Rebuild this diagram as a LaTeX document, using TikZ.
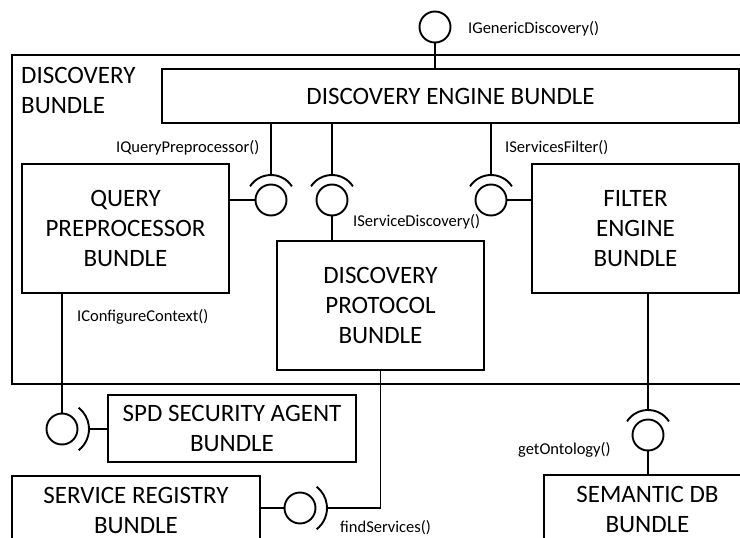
\documentclass[tikz,border=0pt]{standalone}
\usepackage{fontspec}
\setmainfont{Carlito}
\usetikzlibrary{positioning}

\tikzset{
	bundle/.style={draw, rectangle, line width=1.9pt, align=center, inner sep=0pt, font=\fontsize{25}{30}\selectfont},
	ball/.style={draw, circle, line width=1.9pt, minimum size=31pt, inner sep=0pt},
	wire/.style={line width=1.9pt},
	iface/.style={anchor=west, inner sep=0pt, font=\fontsize{16.5}{20}\selectfont},
}

\begin{document}
\begin{tikzpicture}[x=1pt, y=-1pt]
	\useasboundingbox (0,0) rectangle (740,538);
	\clip (0,0) rectangle (740,538);
	% Bundles:
	\node[bundle, minimum width=748pt, minimum height=329pt](DB) at (386,219.5){};
	\node[anchor=north west, align=left, inner sep=0pt, font=\fontsize{25}{30}\selectfont](DBL) at (21,67){DISCOVERY\\BUNDLE};
	\node[bundle, minimum width=577pt, minimum height=54pt](DEB) at (450.5,96){DISCOVERY ENGINE BUNDLE};
	\node[bundle, minimum width=207pt, minimum height=129pt](QPB) at (125.5,228.5){QUERY\\PREPROCESSOR\\BUNDLE};
	\node[bundle, minimum width=207pt, minimum height=129pt](DPB) at (380.5,305.5){DISCOVERY\\PROTOCOL\\BUNDLE};
	\node[bundle, minimum width=207pt, minimum height=129pt](FEB) at (635.5,228.5){FILTER\\ENGINE\\BUNDLE};
	\node[bundle, minimum width=248pt, minimum height=67pt](SAB) at (232,428.5){SPD SECURITY AGENT\\BUNDLE};
	\node[bundle, minimum width=248pt, minimum height=68pt](SRB) at (136,510){SERVICE REGISTRY\\BUNDLE};
	\node[bundle, minimum width=207pt, minimum height=68pt](SDB) at (647.5,509){SEMANTIC DB\\BUNDLE};
	% Interfaces and wires:
	\node[ball](B0) at (435,27){};
	\node[iface](L0) at (468,29){IGenericDiscovery()};
	\draw[wire] (B0) -- (B0 |- DEB.north);
	\node[ball](B1) at (271,200){};
	\node[iface](L1) at (116,148){IQueryPreprocessor()};
	\draw[wire] (B1 |- DEB.south) -- ([yshift=25pt]B1.center);
	\draw[wire] ([shift={(33:25pt)}]B1.center) arc[start angle=33, end angle=147, radius=25pt];
	\draw[wire] (QPB.east |- B1) -- (B1);
	\node[ball](B2) at (332,200){};
	\node[iface](L2) at (353,222){IServiceDiscovery()};
	\draw[wire] (B2 |- DEB.south) -- ([yshift=25pt]B2.center);
	\draw[wire] ([shift={(33:25pt)}]B2.center) arc[start angle=33, end angle=147, radius=25pt];
	\draw[wire] (B2) -- (B2 |- DPB.north);
	\node[ball](B3) at (491,200){};
	\node[iface](L3) at (505,148){IServicesFilter()};
	\draw[wire] (B3 |- DEB.south) -- ([yshift=25pt]B3.center);
	\draw[wire] ([shift={(33:25pt)}]B3.center) arc[start angle=33, end angle=147, radius=25pt];
	\draw[wire] (B3) -- (B3 -| FEB.west);
	\node[ball](B4) at (62,429){};
	\node[iface](L4) at (77,317){IConfigureContext()};
	\draw[wire] (B4 |- QPB.south) -- (B4);
	\draw[wire] ([shift={(-52:27pt)}]B4.center) arc[start angle=-52, end angle=52, radius=27pt];
	\draw[wire] ([xshift=27pt]B4.center) -- (B4 -| SAB.west);
	\node[ball](B5) at (300,508){};
	\node[iface](L5) at (340,528){findServices()};
	\draw[wire] (SRB.east |- B5) -- (B5);
	\draw[wire] ([shift={(-52:27pt)}]B5.center) arc[start angle=-52, end angle=52, radius=27pt];
	\draw[wire] ([xshift=27pt]B5.center) -| (DPB.south);
	\node[ball](B6) at (648,435){};
	\node[iface](L6) at (518,450){getOntology()};
	\draw[wire] (B6 |- FEB.south) -- ([yshift=25pt]B6.center);
	\draw[wire] ([shift={(33:25pt)}]B6.center) arc[start angle=33, end angle=147, radius=25pt];
	\draw[wire] (B6) -- (B6 |- SDB.north);
\end{tikzpicture}
\end{document}
